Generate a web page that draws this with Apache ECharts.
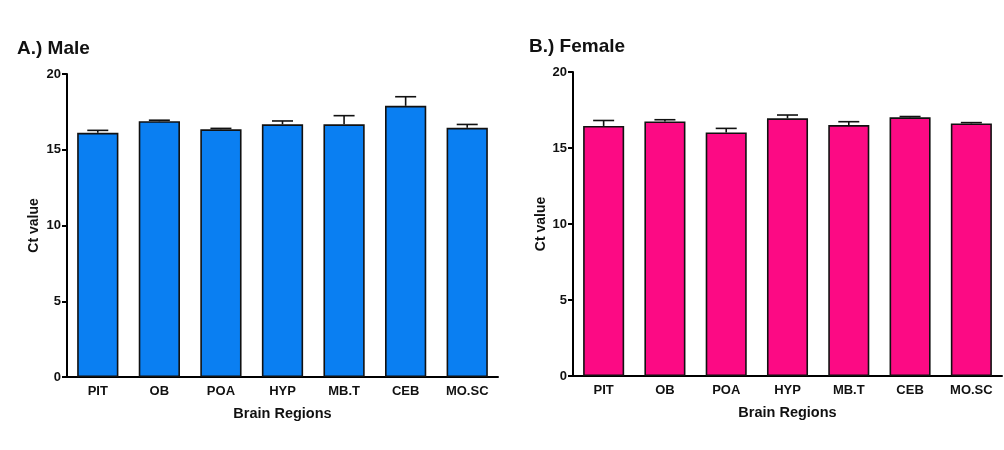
<!DOCTYPE html>
<html>
<head>
<meta charset="utf-8">
<script src="https://cdn.jsdelivr.net/npm/echarts@6/dist/echarts.min.js"></script>
<style>
  html, body { margin: 0; padding: 0; background: #ffffff; }
  #chart { width: 1004px; height: 450px; }
</style>
</head>
<body>
<div id="chart"></div>
<script>
// Brain regions sampled
const regions = ['PIT', 'OB', 'POA', 'HYP', 'MB.T', 'CEB', 'MO.SC'];

// Mean Ct values and SEM per region
const maleCt = [16.12, 16.88, 16.35, 16.68, 16.68, 17.90, 16.45];
const maleSem = [0.16, 0.07, 0.06, 0.22, 0.57, 0.60, 0.22];
const femaleCt = [16.45, 16.75, 16.02, 16.95, 16.51, 17.02, 16.62];
const femaleSem = [0.36, 0.11, 0.27, 0.22, 0.22, 0.05, 0.05];

// Y-axis ticks
const yTicks = [0, 5, 10, 15, 20];

const FONT = '"Liberation Sans", Arial, sans-serif';

function errData(means, sems) {
  return means.map((m, i) => [i, m, m + sems[i]]);
}

// Upper-only error bar with a horizontal cap
function renderErr(params, api) {
  const i = api.value(0);
  const base = api.coord([i, api.value(1)]);
  const top = api.coord([i, api.value(2)]);
  const half = 10.5;
  const style = { stroke: '#111', lineWidth: 1.6, fill: null };
  return {
    type: 'group',
    children: [
      { type: 'line', shape: { x1: base[0], y1: base[1], x2: top[0], y2: top[1] }, style },
      { type: 'line', shape: { x1: top[0] - half, y1: top[1], x2: top[0] + half, y2: top[1] }, style }
    ]
  };
}

function xAxis(gridIndex) {
  return {
    type: 'category',
    gridIndex,
    data: regions,
    name: 'Brain Regions',
    nameLocation: 'middle',
    nameGap: 29,
    nameTextStyle: { fontFamily: FONT, fontWeight: 'bold', fontSize: 14.5, color: '#111' },
    axisLine: { lineStyle: { color: '#000', width: 2 } },
    axisTick: { alignWithLabel: true, length: 4, lineStyle: { color: '#000', width: 2 } },
    axisLabel: { fontFamily: FONT, fontWeight: 'bold', fontSize: 13, color: '#111', margin: 8 },
    splitLine: { show: false }
  };
}

function yAxis(gridIndex, gap) {
  return {
    type: 'value',
    gridIndex,
    min: yTicks[0],
    max: yTicks[yTicks.length - 1],
    interval: yTicks[1] - yTicks[0],
    name: 'Ct value',
    nameLocation: 'middle',
    nameGap: gap,
    nameRotate: 90,
    nameTextStyle: { fontFamily: FONT, fontWeight: 'bold', fontSize: 14, color: '#111' },
    axisLine: { show: true, lineStyle: { color: '#000', width: 2 } },
    axisTick: { show: true, length: 5, lineStyle: { color: '#000', width: 2 } },
    axisLabel: { fontFamily: FONT, fontWeight: 'bold', fontSize: 13, color: '#111', margin: 6 },
    splitLine: { show: false }
  };
}

function bars(idx, values, color) {
  return {
    type: 'bar',
    xAxisIndex: idx,
    yAxisIndex: idx,
    data: values,
    barWidth: '67%',
    itemStyle: { color, borderColor: '#111', borderWidth: 1.6 },
    silent: true,
    z: 2
  };
}

function errors(idx, means, sems) {
  return {
    type: 'custom',
    xAxisIndex: idx,
    yAxisIndex: idx,
    data: errData(means, sems),
    renderItem: renderErr,
    silent: true,
    z: 3
  };
}

const chart = echarts.init(document.getElementById('chart'), null, { renderer: 'canvas' });
chart.setOption({
  backgroundColor: '#ffffff',
  animation: false,
  title: [
    { text: 'A.) Male', left: 17, top: 39, padding: 0, textStyle: { fontFamily: FONT, fontWeight: 'bold', fontSize: 19, color: '#111' } },
    { text: 'B.) Female', left: 529, top: 37, padding: 0, textStyle: { fontFamily: FONT, fontWeight: 'bold', fontSize: 19, color: '#111' } }
  ],
  grid: [
    { left: 67, top: 74, width: 431, height: 303 },
    { left: 573, top: 72, width: 429, height: 304 }
  ],
  xAxis: [xAxis(0), xAxis(1)],
  yAxis: [yAxis(0, 26), yAxis(1, 24)],
  series: [
    bars(0, maleCt, '#0a7ff2'),
    errors(0, maleCt, maleSem),
    bars(1, femaleCt, '#fc0a84'),
    errors(1, femaleCt, femaleSem)
  ]
});
</script>
</body>
</html>
